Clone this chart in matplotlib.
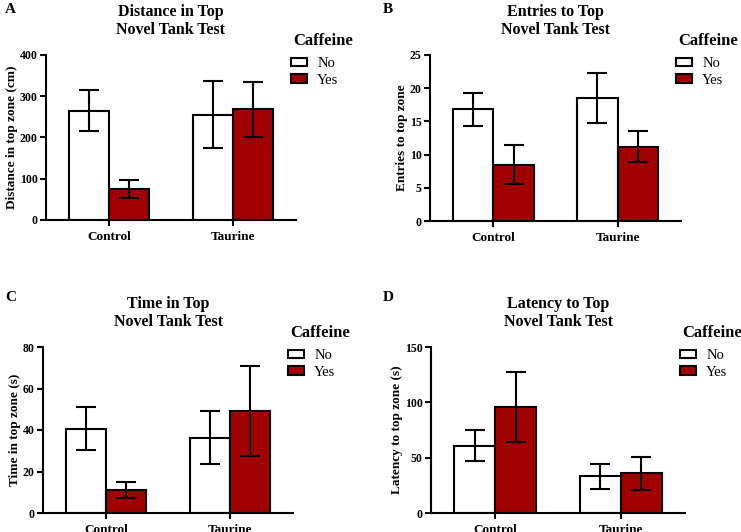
import numpy as np
import matplotlib
matplotlib.use('Agg')
import matplotlib.pyplot as plt
from matplotlib.patches import Patch

plt.rcParams['font.family'] = ['Liberation Serif', 'DejaVu Serif']

RED = '#a00000'
GROUPS = ['Control', 'Taurine']

# mean values and error (half-length) per panel, [Control, Taurine]
DIST_NO = [265, 255]
DIST_NO_ERR = [50, 81]
DIST_YES = [75, 268]
DIST_YES_ERR = [22, 66]

ENTR_NO = [16.8, 18.5]
ENTR_NO_ERR = [2.5, 3.8]
ENTR_YES = [8.5, 11.2]
ENTR_YES_ERR = [3.0, 2.3]

TIME_NO = [40.7, 36.2]
TIME_NO_ERR = [10.2, 12.8]
TIME_YES = [11.1, 49.2]
TIME_YES_ERR = [3.7, 21.5]

LAT_NO = [60.8, 33.0]
LAT_NO_ERR = [13.8, 11.5]
LAT_YES = [95.5, 36.0]
LAT_YES_ERR = [31.5, 15.0]

# (letter, title, ylabel, ymax, ystep, no, no_err, yes, yes_err, axes box px, legend x px)
PANELS = [
    ('A', 'Distance in Top\nNovel Tank Test', 'Distance in top zone (cm)', 400, 100,
     DIST_NO, DIST_NO_ERR, DIST_YES, DIST_YES_ERR, [46, 55, 296, 220], 291),
    ('B', 'Entries to Top\nNovel Tank Test', 'Entries to top zone', 25, 5,
     ENTR_NO, ENTR_NO_ERR, ENTR_YES, ENTR_YES_ERR, [430, 55, 681, 221], 676),
    ('C', 'Time in Top\nNovel Tank Test', 'Time in top zone (s)', 80, 20,
     TIME_NO, TIME_NO_ERR, TIME_YES, TIME_YES_ERR, [43, 347, 293, 513], 288),
    ('D', 'Latency to Top\nNovel Tank Test', 'Latency to top zone (s)', 150, 50,
     LAT_NO, LAT_NO_ERR, LAT_YES, LAT_YES_ERR, [431, 347, 685, 513], 680),
]

W, H = 741, 532
fig = plt.figure(figsize=(W / 100, H / 100), dpi=100)
fig.patch.set_facecolor('white')

bw = 0.325
x = np.arange(len(GROUPS))

for letter, title, ylabel, ymax, ystep, no, no_err, yes, yes_err, (x0, y0, x1, y1), lgx in PANELS:
    ax = fig.add_axes([x0 / W, 1 - y1 / H, (x1 - x0) / W, (y1 - y0) / H])
    ekw = dict(ecolor='black', elinewidth=1.5, capsize=7, capthick=1.5)
    ax.bar(x - bw / 2, no, bw, yerr=no_err, color='white', edgecolor='black',
           linewidth=1.5, error_kw=ekw, zorder=2)
    ax.bar(x + bw / 2, yes, bw, yerr=yes_err, color=RED, edgecolor='black',
           linewidth=1.5, error_kw=ekw, zorder=2)
    ax.set_xlim(-0.51, 1.51)
    ax.set_ylim(0, ymax)
    ax.set_yticks(np.arange(0, ymax + ystep / 2, ystep))
    ax.set_xticks(x)
    ax.set_xticklabels(GROUPS, fontweight='bold', fontsize=9.5)
    for lab in ax.get_yticklabels():
        lab.set_fontweight('bold')
        lab.set_fontsize(8.5)
    ax.tick_params(direction='out', width=1.5, length=4, pad=2)
    ax.tick_params(axis='x', length=4, pad=4)
    for s in ['top', 'right']:
        ax.spines[s].set_visible(False)
    for s in ['left', 'bottom']:
        ax.spines[s].set_linewidth(1.5)
    ax.set_ylabel(ylabel, fontweight='bold', fontsize=9.5, labelpad=1.5)
    ax.set_title(title, fontweight='bold', fontsize=11.5, linespacing=1.15, pad=15)

    # panel letter
    lx = 5 if x0 < 300 else 383
    ly = 3 if y0 < 100 else 291
    fig.text(lx / W, 1 - ly / H, letter, fontweight='bold', fontsize=11,
             ha='left', va='top')

    # legend: title drawn separately
    fig.text((lgx + 2) / W, 1 - (y0 - 14) / H, 'Caffeine', fontweight='bold',
             fontsize=12, ha='left', va='center')
    handles = [Patch(facecolor='white', edgecolor='black', linewidth=1.5),
               Patch(facecolor=RED, edgecolor='black', linewidth=1.5)]
    ax.legend(handles, ['No', 'Yes'], loc='center left',
              bbox_to_anchor=(lgx / W, 1 - (y0 + 17) / H),
              bbox_transform=fig.transFigure, frameon=False, fontsize=10.5,
              handlelength=1.1, handleheight=0.55, handletextpad=0.7,
              labelspacing=0.25, borderaxespad=0, borderpad=0)

fig.savefig('out.png', dpi=100, facecolor='white')
